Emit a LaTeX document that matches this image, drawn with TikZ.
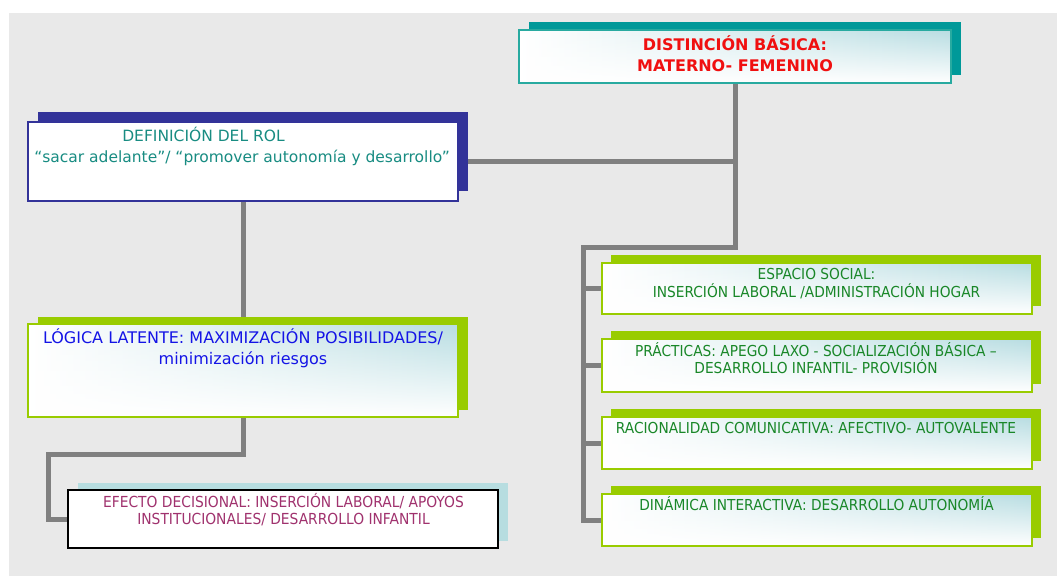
\documentclass[tikz,border=0pt]{standalone}
\usepackage{fontspec}
\setmainfont{DejaVu Sans}
\newfontfamily\narrowfont{DejaVu Sans}[FakeStretch=0.91]
\usetikzlibrary{fadings}
\pgfdeclarelayer{back}
\pgfdeclarelayer{lines}
\pgfdeclarelayer{shadow}
\pgfdeclarelayer{fills}
\pgfsetlayers{back,lines,shadow,fills,main}
\definecolor{bgc}{RGB}{233,233,233}
\definecolor{lineg}{RGB}{128,128,128}
\definecolor{tealsh}{RGB}{0,153,153}
\definecolor{tealbd}{RGB}{40,170,160}
\definecolor{navy}{RGB}{51,51,153}
\definecolor{lime}{RGB}{153,204,0}
\definecolor{cyansh}{RGB}{183,221,224}
\definecolor{gradc}{RGB}{184,221,226}
\definecolor{tred}{RGB}{240,16,16}
\definecolor{tteal}{RGB}{24,140,130}
\definecolor{tblue}{RGB}{20,20,230}
\definecolor{tmag}{RGB}{160,50,110}
\definecolor{tgreen}{RGB}{25,135,40}
\newcommand\boxshadow[4]{%
  \begin{pgfonlayer}{shadow}
  \fill[#2] ([shift={(#3,#4)}]#1.south west) rectangle ([shift={(#3,#4)}]#1.north east);
  \end{pgfonlayer}}
\newcommand\boxgrad[1]{%
  \begin{pgfonlayer}{fills}
  \fill[white] (#1.south west) rectangle (#1.north east);
  \shade[left color=white, right color=gradc] (#1.south west) rectangle (#1.north east);
  \fill[white, path fading=north] (#1.south west) rectangle (#1.north east);
  \end{pgfonlayer}}
\tikzset{
  bx/.style={rectangle, inner sep=0pt, outer sep=0pt, line width=1.3pt},
  conn/.style={line width=5pt, draw=lineg},
  txt/.style={inner sep=0pt, anchor=base},
  ftitle/.style={font=\fontsize{16}{19}\selectfont\bfseries, text=tred},
  fdef/.style={font=\fontsize{15.5}{18}\selectfont, text=tteal},
  flog/.style={font=\fontsize{16}{19}\selectfont, text=tblue},
  fefe/.style={font=\narrowfont\fontsize{15.2}{17}\selectfont, text=tmag},
  fr/.style={font=\narrowfont\fontsize{15.1}{17}\selectfont, text=tgreen},
}
\begin{document}
\begin{tikzpicture}[x=1pt,y=-1pt]
\useasboundingbox (0,0) rectangle (1057,576);
\begin{pgfonlayer}{back}
\fill[bgc] (9,13) rectangle (1057,576);
\end{pgfonlayer}

% boxes
\node[bx, draw=tealbd, minimum width=432pt, minimum height=53pt] (top) at (735,56.5) {};
\boxshadow{top}{tealsh}{10}{-8}\boxgrad{top}

\node[bx, draw=navy, fill=white, minimum width=430pt, minimum height=79pt] (def) at (243,161.5) {};
\boxshadow{def}{navy}{10}{-10}

\node[bx, draw=lime, minimum width=430pt, minimum height=93pt] (log) at (243,370.5) {};
\boxshadow{log}{lime}{10}{-7}\boxgrad{log}

\node[bx, draw=black, fill=white, minimum width=430pt, minimum height=58pt] (efe) at (283,519) {};
\boxshadow{efe}{cyansh}{10}{-7}

\node[bx, draw=lime, minimum width=430pt, minimum height=51pt] (r1) at (817,288.5) {};
\boxshadow{r1}{lime}{9}{-8}\boxgrad{r1}
\node[bx, draw=lime, minimum width=430pt, minimum height=53pt] (r2) at (817,365.5) {};
\boxshadow{r2}{lime}{9}{-8}\boxgrad{r2}
\node[bx, draw=lime, minimum width=430pt, minimum height=52pt] (r3) at (817,443) {};
\boxshadow{r3}{lime}{9}{-8}\boxgrad{r3}
\node[bx, draw=lime, minimum width=430pt, minimum height=52pt] (r4) at (817,520) {};
\boxshadow{r4}{lime}{9}{-8}\boxgrad{r4}

% texts
\node[txt, ftitle] (ta) at (735,50) {DISTINCIÓN BÁSICA:};
\node[txt, ftitle] (tb) at (735,71) {MATERNO- FEMENINO};
\node[txt, fdef] (da) at (203.5,141) {DEFINICIÓN DEL ROL};
\node[txt, fdef] (db) at (242,162.5) {“sacar adelante”/ “promover autonomía y desarrollo”};
\node[txt, flog] (la) at (243,343) {LÓGICA LATENTE: MAXIMIZACIÓN POSIBILIDADES/};
\node[txt, flog] (lb) at (243,364.5) {minimización riesgos};
\node[txt, fefe] (ea) at (283.5,507) {EFECTO DECISIONAL: INSERCIÓN LABORAL/ APOYOS};
\node[txt, fefe] (eb) at (283.5,524.5) {INSTITUCIONALES/ DESARROLLO INFANTIL};
\node[txt, fr] (r1a) at (816.5,279) {ESPACIO SOCIAL:};
\node[txt, fr] (r1b) at (816.5,297) {INSERCIÓN LABORAL /ADMINISTRACIÓN HOGAR};
\node[txt, fr] (r2a) at (816,356.5) {PRÁCTICAS: APEGO LAXO - SOCIALIZACIÓN BÁSICA –};
\node[txt, fr] (r2b) at (816,373.5) {DESARROLLO INFANTIL- PROVISIÓN};
\node[txt, fr] (r3a) at (816,433) {RACIONALIDAD COMUNICATIVA: AFECTIVO- AUTOVALENTE};
\node[txt, fr] (r4a) at (816.5,510) {DINÁMICA INTERACTIVA: DESARROLLO AUTONOMÍA};

% connectors
\coordinate (j1) at (735,247);
\coordinate (j2) at (583,247);
\coordinate (k1) at (243,454);
\coordinate (k2) at (48,454);
\begin{pgfonlayer}{lines}
\draw[conn] (top.south) -- (j1) -- (j2) |- (r4.west);
\draw[conn] (j2 |- r1.west) -- (r1.west);
\draw[conn] (j2 |- r2.west) -- (r2.west);
\draw[conn] (j2 |- r3.west) -- (r3.west);
\draw[conn] (def.east) -- (def.east -| top.south);
\draw[conn] (def.south) -- (log.north);
\draw[conn] (log.south) -- (k1) -- (k2) |- (efe.west);
\end{pgfonlayer}
\end{tikzpicture}
\end{document}
